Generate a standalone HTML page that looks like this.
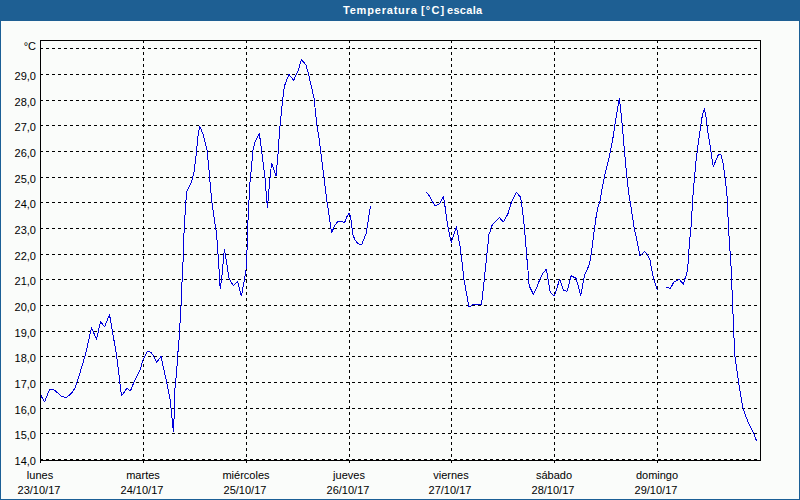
<!DOCTYPE html>
<html><head><meta charset="utf-8"><style>
html,body{margin:0;padding:0;width:800px;height:500px;overflow:hidden;background:#fafcfa;}
#w{position:relative;width:800px;height:500px;}
#hd{position:absolute;left:0;top:0;width:800px;height:21px;background:#1e5f93;}
.tt{position:absolute;top:4px;height:21px;line-height:21px;color:#fff;font:bold 11px "Liberation Sans",sans-serif;white-space:nowrap;}
#bl{position:absolute;left:0;top:21px;width:1px;height:479px;background:#1b5f96;}
#br{position:absolute;left:799px;top:21px;width:1px;height:479px;background:#1b5f96;}
#bb{position:absolute;left:0;top:499px;width:800px;height:1px;background:#1b5f96;}
svg{position:absolute;left:0;top:0;}
svg text{font-family:"Liberation Sans",sans-serif;font-size:11px;fill:#000;}
.d{stroke:#000;stroke-width:1;stroke-dasharray:3 3;shape-rendering:crispEdges;}
.p{fill:none;stroke:#0000dc;stroke-width:1;shape-rendering:crispEdges;stroke-linejoin:bevel;}
</style></head><body><div id="w">
<div id="hd"></div><div class="tt" style="left:343px;letter-spacing:0.8px">Temperatura</div><div class="tt" style="left:421px;letter-spacing:1.2px">[°C]</div><div class="tt" style="left:447px;letter-spacing:0.3px">escala</div>
<div id="bl"></div><div id="br"></div><div id="bb"></div>
<svg width="800" height="500" viewBox="0 0 800 500">
<line x1="40" y1="48.5" x2="760" y2="48.5" class="d"/>
<line x1="40" y1="74.5" x2="760" y2="74.5" class="d"/>
<line x1="40" y1="100.5" x2="760" y2="100.5" class="d"/>
<line x1="40" y1="125.5" x2="760" y2="125.5" class="d"/>
<line x1="40" y1="151.5" x2="760" y2="151.5" class="d"/>
<line x1="40" y1="177.5" x2="760" y2="177.5" class="d"/>
<line x1="40" y1="202.5" x2="760" y2="202.5" class="d"/>
<line x1="40" y1="228.5" x2="760" y2="228.5" class="d"/>
<line x1="40" y1="254.5" x2="760" y2="254.5" class="d"/>
<line x1="40" y1="279.5" x2="760" y2="279.5" class="d"/>
<line x1="40" y1="305.5" x2="760" y2="305.5" class="d"/>
<line x1="40" y1="331.5" x2="760" y2="331.5" class="d"/>
<line x1="40" y1="356.5" x2="760" y2="356.5" class="d"/>
<line x1="40" y1="382.5" x2="760" y2="382.5" class="d"/>
<line x1="40" y1="408.5" x2="760" y2="408.5" class="d"/>
<line x1="40" y1="433.5" x2="760" y2="433.5" class="d"/>
<line x1="40" y1="459.5" x2="760" y2="459.5" class="d"/>
<line x1="143.5" y1="40" x2="143.5" y2="460" class="d"/>
<rect x="143" y="461" width="1" height="2" fill="#000"/>
<line x1="246.5" y1="40" x2="246.5" y2="460" class="d"/>
<rect x="246" y="461" width="1" height="2" fill="#000"/>
<line x1="349.5" y1="40" x2="349.5" y2="460" class="d"/>
<rect x="349" y="461" width="1" height="2" fill="#000"/>
<line x1="451.5" y1="40" x2="451.5" y2="460" class="d"/>
<rect x="451" y="461" width="1" height="2" fill="#000"/>
<line x1="554.5" y1="40" x2="554.5" y2="460" class="d"/>
<rect x="554" y="461" width="1" height="2" fill="#000"/>
<line x1="657.5" y1="40" x2="657.5" y2="460" class="d"/>
<rect x="657" y="461" width="1" height="2" fill="#000"/>
<rect x="40" y="461" width="1" height="2" fill="#000"/>
<rect x="40.5" y="40.5" width="720" height="420" fill="none" stroke="#000" stroke-width="1"/>
<text x="36" y="80" text-anchor="end">29,0</text>
<text x="36" y="106" text-anchor="end">28,0</text>
<text x="36" y="131" text-anchor="end">27,0</text>
<text x="36" y="157" text-anchor="end">26,0</text>
<text x="36" y="183" text-anchor="end">25,0</text>
<text x="36" y="208" text-anchor="end">24,0</text>
<text x="36" y="234" text-anchor="end">23,0</text>
<text x="36" y="260" text-anchor="end">22,0</text>
<text x="36" y="285" text-anchor="end">21,0</text>
<text x="36" y="311" text-anchor="end">20,0</text>
<text x="36" y="337" text-anchor="end">19,0</text>
<text x="36" y="362" text-anchor="end">18,0</text>
<text x="36" y="388" text-anchor="end">17,0</text>
<text x="36" y="414" text-anchor="end">16,0</text>
<text x="36" y="439" text-anchor="end">15,0</text>
<text x="36" y="465" text-anchor="end">14,0</text>
<text x="36" y="50" text-anchor="end">°C</text>
<text x="40" y="479" text-anchor="middle">lunes</text>
<text x="39" y="494" text-anchor="middle">23/10/17</text>
<text x="143" y="479" text-anchor="middle">martes</text>
<text x="142" y="494" text-anchor="middle">24/10/17</text>
<text x="246" y="479" text-anchor="middle">miércoles</text>
<text x="245" y="494" text-anchor="middle">25/10/17</text>
<text x="349" y="479" text-anchor="middle">jueves</text>
<text x="348" y="494" text-anchor="middle">26/10/17</text>
<text x="451" y="479" text-anchor="middle">viernes</text>
<text x="450" y="494" text-anchor="middle">27/10/17</text>
<text x="554" y="479" text-anchor="middle">sábado</text>
<text x="553" y="494" text-anchor="middle">28/10/17</text>
<text x="657" y="479" text-anchor="middle">domingo</text>
<text x="656" y="494" text-anchor="middle">29/10/17</text>
<polyline points="41,395.5 44.5,402 49.5,389.5 53.5,389.5 55,390.5 61.5,396.5 66,397.5 69,395.5 72,392.5 75,388 77.5,381 85.5,354.5 91.5,327.5 96.5,339.5 100.5,321.5 104.5,327 109.5,314.5 112.5,332 116.5,354.5 121.5,396 127,388 130.4,391 134,382 140,370 143,360 147.6,351 151,352.4 153,355 156.6,362.4 161,356.4 163.5,368 167.5,386 170.3,400 171.2,410 173.4,432 174.6,406 175,388 176.6,372 177.8,354 179,340 181.4,300 182,282 183,262 183.6,242 184.4,224 186,200 186.4,192 191.6,182 194,172 196,156 198,136 199.6,126 203,134 207,150 209,170 211.6,200 214.4,220 216.4,232 218,254 219,268.8 220.2,289.2 222,274.8 224.4,249 226.8,264 229.2,279 233.4,285.6 237.6,281.4 241.4,296.4 244.2,280.8 246,270 246.6,256 247.8,240 248,220 249,200 250,182 251.6,166 253,150 255,142 259.4,133.6 262,154 265,178 267.4,208 270,178 271.6,163 276,176 278,154 279.6,130 281.6,110 283.6,92 284.4,86 289,74.4 293.6,80.4 298,71 301.4,59.6 306,65 309,76 311,85 314,98 317,126 319.3,140 322.6,166.4 327,201.6 329,215 330.5,225 331.5,233 333,229.5 335,225 337.5,222 340,221.2 342.5,221.8 344.5,223 346.5,217.5 349,213 350.5,216 351.8,226 353,235 355,240 358,243.5 361.5,245 363.5,240 366,234 367.5,225 369,215 370.5,206.5" class="p"/>
<polyline points="426.5,192.2 429.7,196.3 432.3,201.2 434.5,205.1 436.9,205.1 439.5,203.8 443.1,196.6 444.4,202 446.6,218 448.3,229 451.3,242.5 453.5,235.8 456.4,226.5 458.3,237 460,246 462,262 464,280 466.6,294 469,307 474,304 481.5,304.5 483.5,287 486.2,261 489,234 490.6,230.4 491.2,226.8 494.2,222.6 499.4,217.5 503.4,222.2 508,213.6 509.8,207.6 511.6,201.6 516.4,192.2 520.6,197.4 522.4,210 524.2,225.6 525.4,238.8 526.8,257.2 528,270.4 529.2,286 533.4,294.4 537,287.2 540,278.8 542.4,274 546.4,269 548,278.8 550.2,292 554.4,296.2 556.8,288.4 559.6,279.4 563.4,290.2 567,291.4 571.2,275.8 576,278.2 580.8,295.4 584.4,275.8 589.3,264.5 591.3,253.5 594,232 596,217.6 598,207 600,201 602,189 604.4,177 606.7,167.2 608.5,160 610.4,151.2 613,137.6 615.5,120.6 617.6,108.7 619.3,98.5 620.6,108.7 622.3,125.7 624,146 625.4,161.4 626.6,175 629,195 631,207 634,227 637,241 640,256 644.4,251.4 647,254 650,260 652,271 654,280 657.5,290.5" class="p"/>
<polyline points="666.2,287.5 668,287.5 670,288.5 672,285.5 674,281.8 677,280.5 679.5,279.5 681.5,282 683.5,284.5 684.5,280 686.5,274.5 687.5,269 688.5,260 688.7,253 689.8,239 691.2,225 691.9,212.4 692.6,202.6 693.3,190 694.4,179 696,161 698,145 700,131 702.4,115 704.4,108.6 706,117 708,133 710.4,147 712,159 713.4,167 715.6,161 718.4,154.6 721,155 723,163 725,177 726.4,189 727.3,199.8 727.9,214.5 728.7,230.6 729.7,246.7 731,266 732,290 733,314 734,338 734.4,350 735,357 737,371 739,385 741,397 743,408 746,417 749,424 752,430 754.4,435 756.4,440.6" class="p"/>
</svg></div></body></html>
